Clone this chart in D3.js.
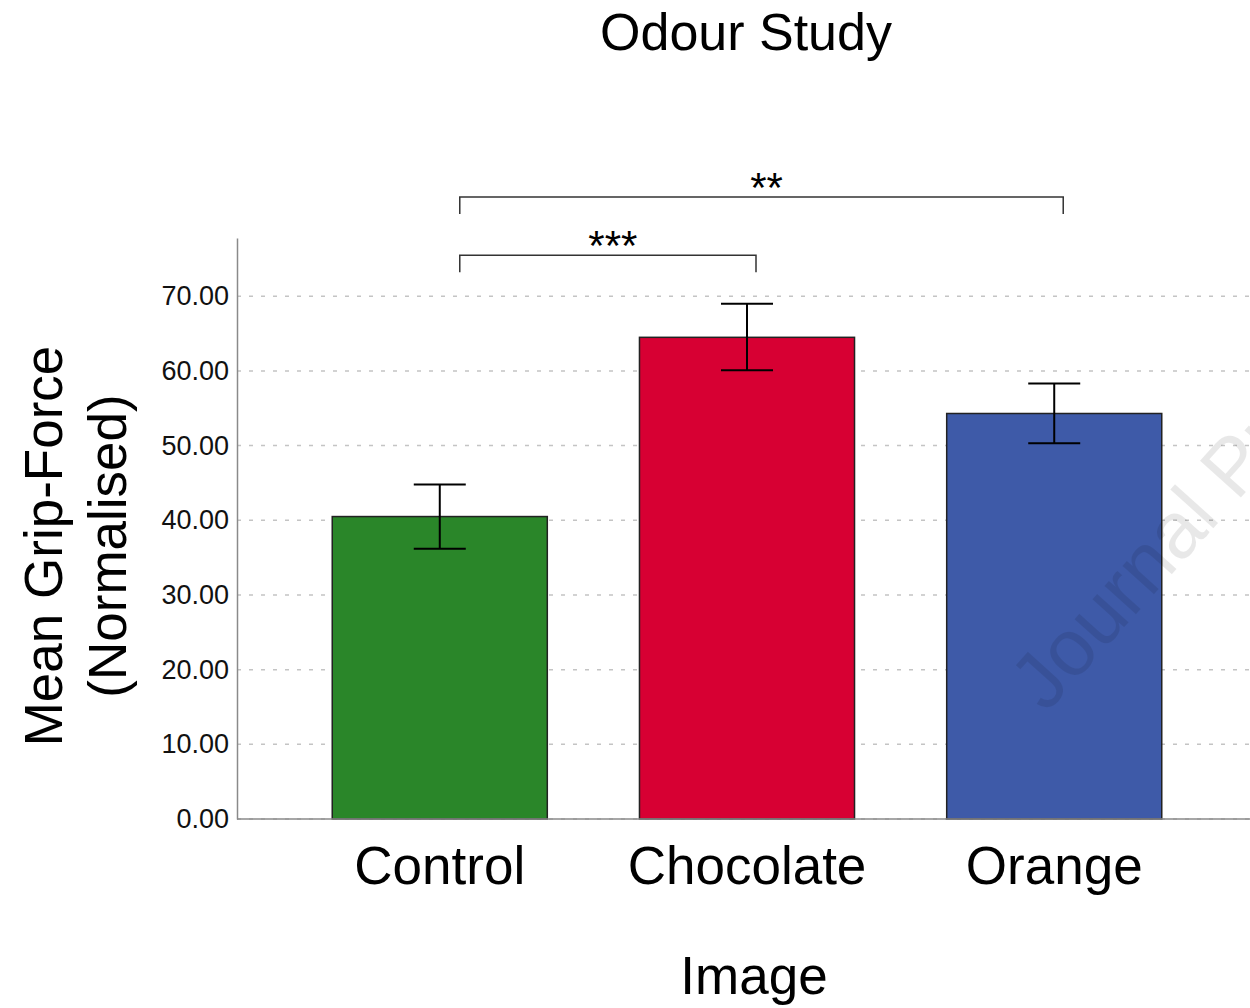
<!DOCTYPE html>
<html>
<head>
<meta charset="utf-8">
<script src="https://cdn.jsdelivr.net/npm/d3@7"></script>
<style>
  body { margin: 0; background: #fff; }
  text { font-family: "Liberation Sans", Arial, sans-serif; }
</style>
</head>
<body>
<svg id="chart"></svg>
<script>
// data
const categories = ["Control", "Chocolate", "Orange"];
const means = [40.5, 64.5, 54.3];
const errLow = [36.2, 60.1, 50.3];
const errHigh = [44.8, 69.0, 58.3];
const barColors = ["#2a8629", "#d70033", "#3e5aa8"];
const yTicks = [0, 10, 20, 30, 40, 50, 60, 70];
// significance brackets: from, to, label, height (value units)
const sigFrom = ["Control", "Control"];
const sigTo = ["Chocolate", "Orange"];
const sigLabel = ["***", "**"];
const sigLevel = [75.5, 83.3];

const W = 1250, H = 1008;
const svg = d3.select("#chart").attr("width", W).attr("height", H);

const x = d3.scaleBand().domain(categories).range([237, 1257])
  .paddingInner(0.3).paddingOuter(0.31);
const y = d3.scaleLinear().domain([0, 77.8]).range([819, 238]);

const data = categories.map((c, i) => ({
  cat: c, mean: means[i], lo: errLow[i], hi: errHigh[i], color: barColors[i]
}));

// gridlines
svg.append("g").selectAll("line")
  .data(yTicks)
  .join("line")
  .attr("x1", 237).attr("x2", W)
  .attr("y1", d => y(d)).attr("y2", d => y(d))
  .attr("stroke", "#c4c4c4")
  .attr("stroke-width", 1.5)
  .attr("stroke-dasharray", "4,8");

// bars
svg.append("g").selectAll("rect")
  .data(data)
  .join("rect")
  .attr("x", d => x(d.cat))
  .attr("width", x.bandwidth())
  .attr("y", d => y(d.mean))
  .attr("height", d => y(0) - y(d.mean))
  .attr("fill", d => d.color)
  .attr("stroke", "#222")
  .attr("stroke-width", 1.5);

// error bars
const capW = 26;
const eb = svg.append("g").attr("stroke", "#000").attr("stroke-width", 2);
data.forEach(d => {
  const cx = x(d.cat) + x.bandwidth() / 2;
  eb.append("line").attr("x1", cx).attr("x2", cx).attr("y1", y(d.lo)).attr("y2", y(d.hi));
  eb.append("line").attr("x1", cx - capW).attr("x2", cx + capW).attr("y1", y(d.hi)).attr("y2", y(d.hi));
  eb.append("line").attr("x1", cx - capW).attr("x2", cx + capW).attr("y1", y(d.lo)).attr("y2", y(d.lo));
});

// y axis
const yAxis = svg.append("g")
  .attr("transform", "translate(237,0)")
  .call(d3.axisLeft(y).tickValues(yTicks).tickFormat(d3.format(".2f")).tickSize(0).tickSizeOuter(0).tickPadding(8));
yAxis.select(".domain").attr("stroke", "#8a8a8a").attr("stroke-width", 1.5);
yAxis.selectAll("text")
  .attr("font-size", 27)
  .attr("font-family", "'Liberation Sans', Arial, sans-serif")
  .attr("fill", "#111");

// x axis line
svg.append("line")
  .attr("x1", 237).attr("x2", W)
  .attr("y1", y(0)).attr("y2", y(0))
  .attr("stroke", "#8a8a8a").attr("stroke-width", 1.5);

// category labels
svg.append("g").selectAll("text")
  .data(categories)
  .join("text")
  .attr("x", d => x(d) + x.bandwidth() / 2)
  .attr("y", 884)
  .attr("text-anchor", "middle")
  .attr("font-size", 53)
  .text(d => d);

// significance brackets
const br = svg.append("g");
sigFrom.forEach((f, i) => {
  const x1 = x(f) + x.bandwidth() / 2 + 20;
  const x2 = x(sigTo[i]) + x.bandwidth() / 2 + 9;
  const yy = y(sigLevel[i]);
  br.append("path")
    .attr("d", `M${x1},${yy + 17}V${yy}H${x2}V${yy + 17}`)
    .attr("fill", "none")
    .attr("stroke", "#333")
    .attr("stroke-width", 1.5);
  br.append("text")
    .attr("x", (x1 + x2) / 2 + 5)
    .attr("y", yy + 5)
    .attr("text-anchor", "middle")
    .attr("font-size", 42)
    .text(sigLabel[i]);
});

// titles
svg.append("text")
  .attr("x", 746).attr("y", 50)
  .attr("text-anchor", "middle")
  .attr("font-size", 52)
  .text("Odour Study");

svg.append("text")
  .attr("x", 754).attr("y", 994)
  .attr("text-anchor", "middle")
  .attr("font-size", 53)
  .text("Image");

const yl = svg.append("text")
  .attr("transform", "translate(62,546) rotate(-90)")
  .attr("text-anchor", "middle")
  .attr("font-size", 53);
yl.append("tspan").attr("x", 0).attr("dy", 0).text("Mean Grip-Force");
yl.append("tspan").attr("x", 0).attr("dy", 64).text("(Normalised)");

// watermark
svg.append("text")
  .attr("transform", "translate(1046,714) rotate(-48)")
  .attr("font-size", 80)
  .attr("fill", "#000")
  .attr("fill-opacity", 0.09)
  .text("Journal Pre-proof");
</script>
</body>
</html>
